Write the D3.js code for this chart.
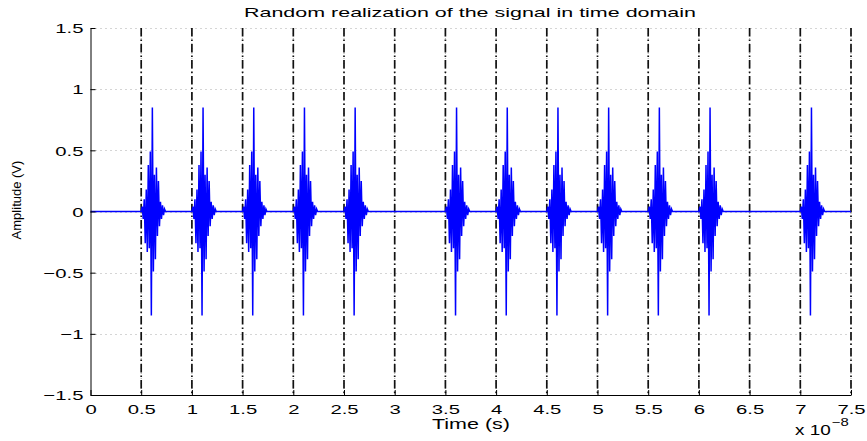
<!DOCTYPE html>
<html>
<head>
<meta charset="utf-8">
<script src="https://cdn.jsdelivr.net/npm/d3@7"></script>
<style>
  body { margin: 0; background: #fff; }
  svg { display: block; font-family: 'Liberation Sans', Arial, Helvetica, sans-serif; }
  .axis path, .axis line { stroke: #000; }
</style>
</head>
<body>
<script>
/* global d3 */
(function () {
  'use strict'

  // Tick values and labels (time axis is in units of 1e-8 s)
  var xTicks = [0, 0.5, 1, 1.5, 2, 2.5, 3, 3.5, 4, 4.5, 5, 5.5, 6, 6.5, 7, 7.5]
  var xTickLabels = ['0', '0.5', '1', '1.5', '2', '2.5', '3', '3.5', '4', '4.5', '5', '5.5', '6', '6.5', '7', '7.5']
  var yTicks = [-1.5, -1, -0.5, 0, 0.5, 1, 1.5]
  var yTickLabels = ['\u22121.5', '\u22121', '\u22120.5', '0', '0.5', '1', '1.5']

  // Slot boundaries (dash-dot lines)
  var slotEdges = [0.5, 1, 1.5, 2, 2.5, 3, 3.5, 4, 4.5, 5, 5.5, 6, 6.5, 7, 7.5]

  // Slots that carry a pulse (start time, 1e-8 s)
  var pulseStarts = [0.5, 1, 1.5, 2, 2.5, 3.5, 4, 4.5, 5, 5.5, 6, 7]

  // Pulse shape: offset from slot start (1e-8 s) and amplitude (V)
  var pulseOffsets = [0, 0.01, 0.02, 0.03, 0.04, 0.05, 0.06, 0.07, 0.08, 0.09, 0.10, 0.11, 0.12,
    0.13, 0.14, 0.15, 0.16, 0.17, 0.18, 0.19, 0.20, 0.21, 0.22, 0.23, 0.24]
  var pulseValues = [0, 0.04, -0.06, 0.10, -0.26, 0.18, -0.33, 0.38, -0.30, 0.49, -0.85, 0.85, -0.49,
    0.30, -0.39, 0.36, -0.20, 0.25, -0.12, 0.08, -0.06, 0.05, -0.03, 0.02, 0]

  // Dimensions
  var w = 867
  var h = 441
  var left = 90.5
  var right = 851
  var top = 28
  var bottom = 395

  // MATLAB draws its text wide: stretch glyphs horizontally
  function stretch (sel, factor) {
    sel.each(function () {
      var n = this.getComputedTextLength()
      d3.select(this)
        .attr('textLength', n * factor)
        .attr('lengthAdjust', 'spacingAndGlyphs')
    })
  }

  // Build the signal: zero everywhere except the pulses
  var signal = [{ t: 0, v: 0 }]
  pulseStarts.forEach(function (s) {
    for (var i = 0; i < pulseOffsets.length; i++) {
      signal.push({ t: s + pulseOffsets[i], v: pulseValues[i] })
    }
  })
  signal.push({ t: 7.5, v: 0 })

  var x = d3.scaleLinear().domain([0, 7.5]).range([left, right])
  var y = d3.scaleLinear().domain([-1.5, 1.5]).range([bottom, top])

  var svg = d3.select('body').append('svg')
    .attr('width', w)
    .attr('height', h)

  // Grid (dotted)
  var grid = svg.append('g')
  grid.selectAll('line.hg')
    .data(yTicks)
    .enter().append('line')
      .attr('class', 'hg')
      .attr('x1', left)
      .attr('x2', right)
      .attr('y1', function (d) { return Math.round(y(d)) + 0.5 })
      .attr('y2', function (d) { return Math.round(y(d)) + 0.5 })
      .attr('stroke', '#aaa')
      .attr('stroke-width', 1)
      .attr('stroke-dasharray', '1,4')
  grid.selectAll('line.vg')
    .data(xTicks.slice(1))
    .enter().append('line')
      .attr('class', 'vg')
      .attr('x1', function (d) { return x(d) })
      .attr('x2', function (d) { return x(d) })
      .attr('y1', top)
      .attr('y2', bottom)
      .attr('stroke', '#aaa')
      .attr('stroke-width', 1)
      .attr('stroke-dasharray', '1,4')

  // Slot boundaries (dash-dot)
  svg.append('g').selectAll('line')
    .data(slotEdges)
    .enter().append('line')
      .attr('x1', function (d) { return x(d) })
      .attr('x2', function (d) { return x(d) })
      .attr('y1', top)
      .attr('y2', bottom)
      .attr('stroke', '#111')
      .attr('stroke-width', 1.7)
      .attr('stroke-dasharray', '8.5,3,1.5,3')

  // Signal
  var line = d3.line()
    .x(function (d) { return x(d.t) })
    .y(function (d) { return y(d.v) })

  svg.append('path')
    .datum(signal)
    .attr('d', line)
    .attr('fill', 'none')
    .attr('stroke', '#0000ff')
    .attr('stroke-width', 1.5)
    .attr('stroke-linejoin', 'miter')

  // Axes (MATLAB-style inward ticks)
  var bottomAxis = d3.axisBottom(x)
    .tickValues(xTicks)
    .tickFormat(function (d, i) { return xTickLabels[i] })
    .tickSizeInner(-5)
    .tickSizeOuter(0)
    .tickPadding(9)
  var leftAxis = d3.axisLeft(y)
    .tickValues(yTicks)
    .tickFormat(function (d, i) { return yTickLabels[i] })
    .tickSizeInner(-5)
    .tickSizeOuter(0)
    .tickPadding(7)

  var gx = svg.append('g')
    .attr('class', 'axis')
    .attr('transform', 'translate(0,' + bottom + ')')
    .call(bottomAxis)
  var gy = svg.append('g')
    .attr('class', 'axis')
    .attr('transform', 'translate(' + left + ',0)')
    .call(leftAxis)

  gx.selectAll('text')
    .attr('font-size', 13.5)
    .attr('fill', '#000')
    .call(stretch, 1.5)
  gy.selectAll('text')
    .attr('font-size', 13.5)
    .attr('fill', '#000')
    .attr('dy', '0.35em')
    .call(stretch, 1.5)
  gx.select('.domain').attr('stroke-width', 1)
  gy.select('.domain').attr('stroke-width', 1)

  // Titles
  svg.append('text')
    .attr('x', 470)
    .attr('y', 17)
    .attr('text-anchor', 'middle')
    .attr('font-size', 13.5)
    .attr('textLength', 452)
    .attr('lengthAdjust', 'spacingAndGlyphs')
    .text('Random realization of the signal in time domain')

  svg.append('text')
    .attr('x', 471)
    .attr('y', 429)
    .attr('text-anchor', 'middle')
    .attr('font-size', 14)
    .attr('textLength', 78)
    .attr('lengthAdjust', 'spacingAndGlyphs')
    .text('Time (s)')

  svg.append('text')
    .attr('transform', 'translate(21,200) rotate(-90)')
    .attr('text-anchor', 'middle')
    .attr('font-size', 13)
    .text('Amplitude (V)')

  // Exponent label
  var ex = svg.append('text')
    .attr('x', 795)
    .attr('y', 435)
    .attr('font-size', 14)
  ex.append('tspan').text('x 10')
  ex.append('tspan')
    .attr('dy', -9)
    .attr('dx', 1)
    .attr('font-size', 11)
    .text('\u22128')
  stretch(ex.selectAll('tspan'), 1.35)
}())
</script>
</body>
</html>
